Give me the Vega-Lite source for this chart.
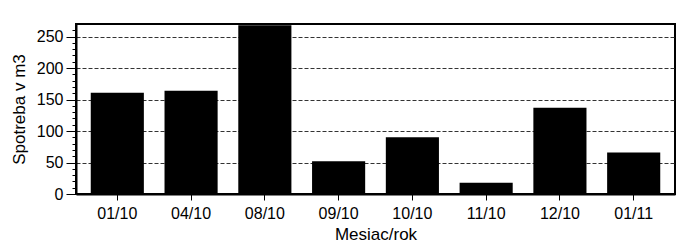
{
  "$schema": "https://vega.github.io/schema/vega-lite/v6.json",
  "width": 599,
  "height": 170,
  "autosize": {"type": "none"},
  "padding": {"left": 76, "top": 24, "right": 2, "bottom": 53},
  "background": "white",
  "config": {
    "font": "Liberation Sans",
    "view": {"stroke": "black", "strokeWidth": 2}
  },
  "data": {
    "values": [
      {"mesiac": "01/10", "spotreba": 161},
      {"mesiac": "04/10", "spotreba": 164},
      {"mesiac": "08/10", "spotreba": 268},
      {"mesiac": "09/10", "spotreba": 52},
      {"mesiac": "10/10", "spotreba": 90},
      {"mesiac": "11/10", "spotreba": 18},
      {"mesiac": "12/10", "spotreba": 137},
      {"mesiac": "01/11", "spotreba": 66}
    ]
  },
  "mark": {"type": "bar", "color": "black"},
  "encoding": {
    "x": {
      "field": "mesiac",
      "type": "nominal",
      "sort": null,
      "scale": {"paddingInner": 0.28, "paddingOuter": 0.2},
      "title": "Mesiac/rok",
      "axis": {
        "labelAngle": 0,
        "labelFont": "Liberation Sans",
        "labelFontSize": 16,
        "labelColor": "black",
        "labelPadding": 5,
        "titleFont": "Liberation Sans",
        "titleFontSize": 17,
        "titleFontWeight": "normal",
        "titleColor": "black",
        "titlePadding": 5,
        "domainColor": "black",
        "domainWidth": 2,
        "tickColor": "black",
        "tickSize": 6,
        "grid": false
      }
    },
    "y": {
      "field": "spotreba",
      "type": "quantitative",
      "scale": {"domain": [0, 270], "nice": false},
      "title": "Spotreba v m3",
      "axis": {
        "values": [0, 10, 20, 30, 40, 50, 60, 70, 80, 90, 100, 110, 120, 130, 140, 150, 160, 170, 180, 190, 200, 210, 220, 230, 240, 250, 260],
        "labelExpr": "datum.value % 50 === 0 ? datum.label : ''",
        "labelFont": "Liberation Sans",
        "labelFontSize": 16,
        "labelColor": "black",
        "labelPadding": 3,
        "titleFont": "Liberation Sans",
        "titleFontSize": 17,
        "titleFontWeight": "normal",
        "titleColor": "black",
        "titlePadding": 8,
        "domainColor": "black",
        "domainWidth": 2,
        "tickColor": "black",
        "tickSize": {"condition": {"test": "datum.value % 50 === 0", "value": 10}, "value": 4},
        "grid": true,
        "gridColor": "#333333",
        "gridDash": [4, 2],
        "gridWidth": 1,
        "gridOpacity": {"condition": {"test": "datum.value % 50 === 0", "value": 1}, "value": 0}
      }
    }
  }
}
